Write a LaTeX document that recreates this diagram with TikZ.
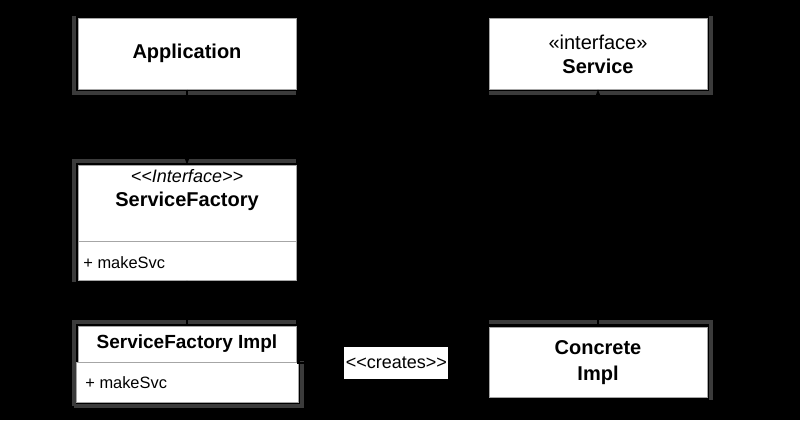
\documentclass[tikz,border=0pt]{standalone}
\usepackage{fontspec}
\setmainfont{Liberation Sans}[Ligatures=TeXOff]
\usetikzlibrary{arrows.meta}
\tikzset{>=Stealth}
\tikzset{
  umlbox/.style={draw=black!35, line width=0.5pt, fill=white, inner sep=0pt, minimum width=109pt},
  shadeline/.style={draw=black!77, line width=1.6pt},
  conn/.style={draw=black, line width=1pt},
  txt/.style={inner sep=0pt, align=center}
}

\begin{document}
\begin{tikzpicture}[x=0.5pt,y=-0.5pt]

\def\colL{187}
\def\colR{598}

% background
\fill[black] (0,0) rectangle (800,420);
\useasboundingbox (0,0) rectangle (800,420);

% shadows:
\draw[shadeline] (74,16) -- (74,93) -- (296,93);
\draw[shadeline] (489,93) -- (711,93) -- (711,16);
\draw[shadeline] (74,282) -- (74,161) -- (296,161);
\draw[shadeline] (74,406) -- (74,322) -- (296,322);
\draw[shadeline] (302,361) -- (302,406) -- (74,406);
\draw[shadeline] (489,322) -- (711,322) -- (711,400);

% boxes:
\node[umlbox, minimum height=35.5pt] (app) at (\colL,53.5) {\fontsize{10}{12}\selectfont\bfseries Application};
\node[umlbox, minimum height=35.5pt] (svc) at (\colR,53.5) {};
\node[txt] (svcname) at (\colR,54.5) {\fontsize{10}{12.5}\selectfont «interface»\\[0pt]\bfseries Service};

\node[umlbox, minimum height=38pt] (sf) at (\colL,203) {};
\node[txt] (sfname) at (\colL,190) {\fontsize{9}{9.7}\selectfont\itshape <<Interface>>\\\bfseries\upshape ServiceFactory};
\node[umlbox, minimum height=19.5pt] (sfops) at (\colL,260.5) {};
\node[txt, anchor=west] (sfop) at (83,263) {\fontsize{8.2}{10}\selectfont + makeSvc};

\node[umlbox, minimum height=18pt] (sfimpl) at (\colL,344) {\fontsize{9.5}{11}\selectfont\bfseries ServiceFactory Impl};
\node[umlbox, minimum height=20pt, minimum width=111pt] (sfimplops) at (\colL,382) {};
\node[txt, anchor=west] (sfimplop) at (85,383) {\fontsize{8.2}{10}\selectfont + makeSvc};

\node[umlbox, minimum height=35pt] (concrete) at (\colR,362) {};
\node[txt, font=\fontsize{10}{13}\selectfont\bfseries] (concname) at (\colR,363) {Concrete\\Impl};

% connectors:
\draw[conn,->] (app) -- (sf);
\draw[conn,->] (sfimpl) -- (sfops);
\draw[conn,->] (concrete) -- (svc);
\draw[conn,->] (sfimpl.south east) -- (concrete.west |- sfimpl.south east)
  node[pos=0.52, fill=white, inner sep=0pt, minimum width=52pt, minimum height=16pt] (creates) {\fontsize{9}{11}\selectfont <<creates>>};

\end{tikzpicture}
\end{document}
